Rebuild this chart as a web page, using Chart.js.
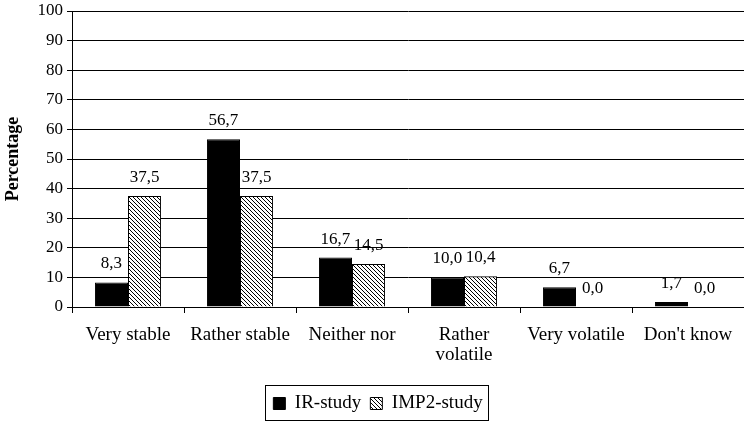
<!DOCTYPE html>
<html><head><meta charset="utf-8">
<script src="https://cdn.jsdelivr.net/npm/chart.js@4/dist/chart.umd.min.js"></script>
<style>html,body{margin:0;padding:0;background:#fff}#wrap{width:744px;height:423px}</style>
</head><body><div id="wrap"><canvas id="c"></canvas></div>
<script>
const categories = ["Very stable", "Rather stable", "Neither nor", ["Rather", "volatile"], "Very volatile", "Don't know"];
const irStudy = [8.3, 56.7, 16.7, 10.0, 6.7, 1.7];
const imp2Study = [37.5, 37.5, 14.5, 10.4, 0.0, 0.0];
const seriesNames = ["IR-study", "IMP2-study"];
const yTicks = {min: 0, max: 100, step: 10};

function hatch() {
  const c = document.createElement('canvas');
  c.width = 4; c.height = 4;
  const g = c.getContext('2d');
  g.fillStyle = '#fff'; g.fillRect(0, 0, 4, 4);
  g.strokeStyle = '#000'; g.lineWidth = 1;
  g.beginPath();
  g.moveTo(-1, -1); g.lineTo(5, 5);
  g.moveTo(3, -1); g.lineTo(5, 1);
  g.moveTo(-1, 3); g.lineTo(1, 5);
  g.stroke();
  return g.createPattern(c, 'repeat');
}
const FONT = "'Liberation Serif', 'Times New Roman', serif";

const labelPlugin = {
  id: 'vals',
  afterDatasetsDraw(chart) {
    const ctx = chart.ctx;
    ctx.save();
    ctx.font = "17px " + FONT;
    ctx.fillStyle = '#000';
    ctx.textAlign = 'center';
    ctx.textBaseline = 'alphabetic';
    chart.data.datasets.forEach((ds, i) => {
      chart.getDatasetMeta(i).data.forEach((bar, j) => {
        ctx.fillText(ds.data[j].toFixed(1).replace('.', ','), bar.x, bar.y - 14);
      });
    });
    ctx.restore();
  }
};
const legendShift = {
  id: 'legendShift',
  afterLayout(chart) {
    if (chart.legend) { chart.legend.left += 6; chart.legend.right += 6; }
  }
};
const legendBorder = {
  id: 'legendBorder',
  afterDraw(chart) {
    const lg = chart.legend;
    if (!lg || !lg.legendHitBoxes.length) return;
    const hb = lg.legendHitBoxes;
    const l = Math.min(...hb.map(h => h.left));
    const r = Math.max(...hb.map(h => h.left + h.width));
    const t = Math.min(...hb.map(h => h.top));
    const b = Math.max(...hb.map(h => h.top + h.height));
    const ctx = chart.ctx;
    ctx.save();
    ctx.strokeStyle = '#000'; ctx.lineWidth = 1;
    ctx.strokeRect(Math.round(l - 8) + 0.5, Math.round(t - 9) + 0.5, Math.round(r - l + 14), Math.round(b - t + 16));
    ctx.restore();
  }
};

new Chart(document.getElementById('c'), {
  type: 'bar',
  data: {
    labels: categories,
    datasets: [
      {label: seriesNames[0], data: irStudy, backgroundColor: '#000', borderColor: '#000', borderWidth: 1, categoryPercentage: 0.59, barPercentage: 1},
      {label: seriesNames[1], data: imp2Study, backgroundColor: hatch(), borderColor: '#000', borderWidth: 1, categoryPercentage: 0.59, barPercentage: 1}
    ]
  },
  options: {
    responsive: true,
    maintainAspectRatio: false,
    animation: false,
    layout: {padding: {top: 11, right: 0, left: 0, bottom: 0}},
    plugins: {
      tooltip: {enabled: false},
      legend: {
        position: 'bottom',
        labels: {
          font: {family: FONT, size: 19},
          color: '#000',
          boxWidth: 12, boxHeight: 12, padding: 9,
          generateLabels(chart) {
            return chart.data.datasets.map((ds, i) => ({
              text: ds.label, fillStyle: ds.backgroundColor, strokeStyle: '#000', lineWidth: 1, datasetIndex: i
            }));
          }
        }
      }
    },
    scales: {
      x: {
        grid: {display: true, drawOnChartArea: false, drawTicks: true, tickLength: 6, color: '#000', offset: true},
        border: {display: true, color: '#000', width: 1},
        ticks: {font: {family: FONT, size: 19, lineHeight: 1.05}, color: '#000', maxRotation: 0, autoSkip: false, padding: 12},
        afterFit(s) { s.height = 78; s.paddingLeft = 0; s.paddingRight = 0; }
      },
      y: {
        min: yTicks.min, max: yTicks.max,
        ticks: {stepSize: yTicks.step, font: {family: FONT, size: 17}, color: '#000', padding: 4},
        grid: {color: '#000', tickLength: 5, drawTicks: true},
        border: {display: true, color: '#000', width: 1},
        title: {display: true, text: 'Percentage', font: {family: FONT, size: 18, weight: 'bold'}, color: '#000', padding: 3},
        afterFit(s) { s.width = 72; s.paddingTop = 0; s.paddingBottom = 0; }
      }
    }
  },
  plugins: [labelPlugin, legendShift, legendBorder]
});
</script></body></html>
